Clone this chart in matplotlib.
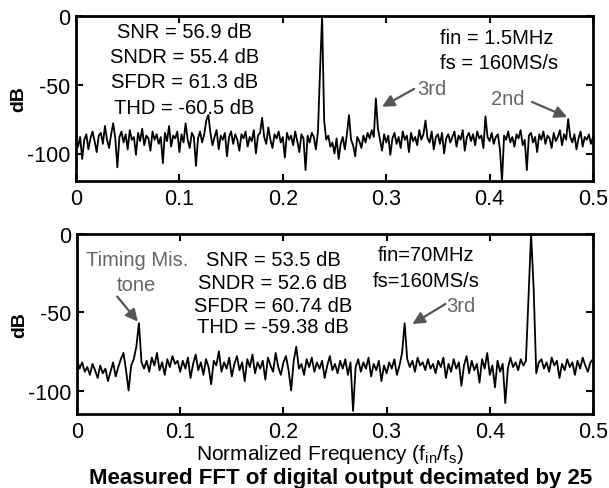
import numpy as np
import matplotlib
matplotlib.use("Agg")
import matplotlib.pyplot as plt

plt.rcParams['font.family'] = ['Liberation Sans', 'DejaVu Sans']
plt.rcParams['mathtext.fontset'] = 'custom'
plt.rcParams['mathtext.rm'] = 'Liberation Sans'
plt.rcParams['axes.unicode_minus'] = False

# FFT spectrum, top panel: fin = 1.5MHz (bin step 0.002)
top_db = [
    -92, -95, -88, -104, -90, -86, -97, -89, -84, -91, -99, -87, -85, -93, -80, -90, -96, -86, -78, -89,
    -110, -88, -84, -92, -86, -97, -83, -90, -88, -101, -85, -91, -82, -94, -87, -89, -98, -84, -90, -86,
    -93, -88, -107, -85, -91, -80, -95, -87, -89, -84, -99, -86, -92, -78, -90, -96, -85, -88, -109, -89,
    -84, -92, -86, -76, -72, -85, -94, -88, -83, -97, -87, -90, -85, -102, -88, -84, -93, -86, -90, -98,
    -86, -89, -84, -95, -88, -91, -83, -100, -87, -85, -74, -88, -93, -81, -90, -96, -86, -89, -84, -92,
    -88, -103, -85, -90, -87, -94, -84, -91, -99, -86, -89, -112, -87, -92, -85, -88, -97, -84, -40, 0,
    -76, -90, -87, -95, -92, -100, -89, -104, -93, -88, -97, -86, -72, -90, -94, -102, -88, -91, -96, -87,
    -92, -85, -89, -83, -88, -60, -82, -90, -98, -86, -92, -87, -101, -89, -85, -93, -88, -96, -84, -90,
    -87, -99, -85, -91, -88, -94, -83, -90, -86, -76, -89, -92, -84, -97, -88, -86, -93, -85, -100, -89,
    -86, -92, -88, -84, -95, -87, -90, -83, -98, -88, -85, -91, -86, -94, -84, -89, -87, -96, -73, -88,
    -91, -85, -93, -88, -86, -97, -120, -87, -90, -84, -92, -88, -95, -86, -89, -83, -94, -90, -112, -87,
    -85, -92, -88, -99, -86, -90, -84, -93, -87, -89, -96, -85, -91, -88, -83, -94, -86, -90, -75, -88,
    -92, -86, -97, -89, -84, -95, -88, -90, -86, -93, -88,
]

# FFT spectrum, bottom panel: fin = 70MHz (bin step 0.0025)
bot_db = [
    -80, -86, -82, -88, -85, -90, -83, -87, -92, -84, -89, -86, -94, -88, -82, -91, -85, -80, -76, -87,
    -100, -84, -80, -72, -57, -82, -86, -81, -88, -79, -84, -76, -87, -82, -90, -80, -85, -78, -83, -81,
    -88, -81, -86, -79, -92, -83, -77, -87, -82, -90, -80, -85, -96, -81, -84, -75, -88, -82, -86, -79,
    -91, -83, -78, -87, -82, -94, -80, -85, -77, -89, -82, -86, -81, -93, -79, -84, -88, -76, -85, -90,
    -82, -78, -87, -100, -81, -72, -86, -83, -90, -80, -85, -79, -88, -82, -86, -81, -92, -84, -78, -87,
    -83, -89, -81, -86, -80, -90, -82, -113, -85, -80, -88, -82, -86, -79, -91, -83, -87, -81, -94, -84,
    -89, -82, -86, -80, -90, -84, -76, -57, -80, -85, -81, -88, -79, -84, -82, -87, -80, -86, -83, -89,
    -81, -85, -79, -92, -83, -88, -80, -86, -82, -97, -84, -78, -89, -81, -87, -83, -95, -80, -86, -76,
    -90, -84, -98, -81, -88, -83, -108, -86, -79, -85, -82, -87, -80, -84, -81, -40, 0, -35, -89, -82,
    -80, -86, -82, -88, -79, -84, -81, -92, -83, -87, -80, -85, -82, -90, -81, -86, -79, -84, -88, -82,
    -80,
]

top_f = np.linspace(0, 0.5, len(top_db))
bot_f = np.linspace(0, 0.5, len(bot_db))

xticks = [0, 0.1, 0.2, 0.3, 0.4, 0.5]
xticklabels = ['0', '0.1', '0.2', '0.3', '0.4', '0.5']
yticks = [0, -50, -100]

fig = plt.figure(figsize=(6.09, 4.89), dpi=100)
ax1 = fig.add_axes([76/609, 1-182/489, 517/609, 165/489])
ax2 = fig.add_axes([77/609, 1-415/489, 516/609, 180/489])

gray = '#666666'
fs = 14.5
arrow = dict(arrowstyle='-|>', color='#555555', lw=1.6, mutation_scale=18, shrinkA=0, shrinkB=0)

for ax, f, db, ylo in [(ax1, top_f, top_db, -120), (ax2, bot_f, bot_db, -115)]:
    ax.plot(f, db, color='black', lw=1.3)
    ax.set_xlim(0, 0.5)
    ax.set_ylim(ylo, 0)
    ax.set_xticks(xticks)
    ax.set_xticklabels(xticklabels)
    ax.set_yticks(yticks)
    ax.tick_params(direction='in', length=5, width=1.5, labelsize=15.5, top=True, right=True)
    ax.tick_params(axis='x', pad=5)
    ax.tick_params(axis='y', pad=4)
    for s in ax.spines.values():
        s.set_linewidth(2)
    ax.set_ylabel('dB', fontsize=14, fontweight='bold')
    ax.yaxis.set_label_coords(-0.095, 0.5)

# top panel text
stats_top = ['SNR = 56.9 dB', 'SNDR = 55.4 dB', 'SFDR = 61.3 dB', 'THD = -60.5 dB']
for s, y in zip(stats_top, [-11.6, -29.8, -48, -66.2]):
    ax1.text(0.105, y, s, ha='center', va='center', fontsize=fs)
ax1.text(0.352, -15.3, 'fin = 1.5MHz', ha='left', va='center', fontsize=fs)
ax1.text(0.352, -33.5, 'fs = 160MS/s', ha='left', va='center', fontsize=fs)
ax1.annotate('', xy=(0.296, -66), xytext=(0.327, -53), arrowprops=arrow)
ax1.text(0.344, -53, '3rd', ha='center', va='center', fontsize=fs, color=gray)
ax1.annotate('', xy=(0.475, -73.5), xytext=(0.441, -62.5), arrowprops=arrow)
ax1.text(0.418, -60, '2nd', ha='center', va='center', fontsize=fs, color=gray)

# bottom panel text
ax2.text(0.058, -16, 'Timing Mis.', ha='center', va='center', fontsize=fs, color=gray)
ax2.text(0.058, -32, 'tone', ha='center', va='center', fontsize=fs, color=gray)
ax2.annotate('', xy=(0.059, -56), xytext=(0.039, -40), arrowprops=arrow)
stats_bot = ['SNR = 53.5 dB', 'SNDR = 52.6 dB', 'SFDR = 60.74 dB', 'THD = -59.38 dB']
for s, y in zip(stats_bot, [-16, -30.7, -46, -59.4]):
    ax2.text(0.190, y, s, ha='center', va='center', fontsize=fs)
ax2.text(0.338, -12.8, 'fin=70MHz', ha='center', va='center', fontsize=fs)
ax2.text(0.338, -30, 'fs=160MS/s', ha='center', va='center', fontsize=fs)
ax2.annotate('', xy=(0.325, -57.5), xytext=(0.357, -44.7), arrowprops=arrow)
ax2.text(0.372, -46, '3rd', ha='center', va='center', fontsize=fs, color=gray)

fig.text(330/609, 1-455/489, r'Normalized Frequency (f$_\mathregular{in}$/f$_\mathregular{s}$)',
         ha='center', va='center', fontsize=15)
fig.text(341/609, 1-479/489, 'Measured FFT of digital output decimated by 25',
         ha='center', va='center', fontsize=16, fontweight='bold')

fig.savefig('out.png', dpi=100)
